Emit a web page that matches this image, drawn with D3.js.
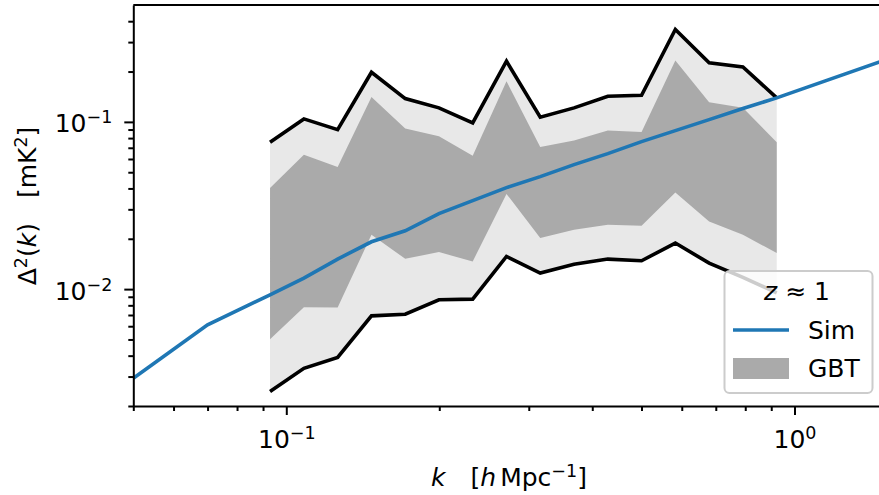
<!DOCTYPE html>
<html>
<head>
<meta charset="utf-8">
<script src="https://cdn.jsdelivr.net/npm/d3@7"></script>
<style>
  body { margin: 0; background: #fff; }
  text { font-family: "DejaVu Sans", sans-serif; }
</style>
</head>
<body>
<div id="chart"></div>
<script>
// GBT k bins and bands
var kBins = [0.0929, 0.1083, 0.1262, 0.1471, 0.1714, 0.1997, 0.2327, 0.2712,
             0.3160, 0.3683, 0.4292, 0.5001, 0.5828, 0.6792, 0.7915, 0.9226];
var outerHi = [0.0755, 0.1042, 0.0899, 0.198, 0.1378, 0.1213, 0.0986, 0.2307,
               0.1066, 0.1213, 0.1422, 0.1443, 0.357, 0.2253, 0.2133, 0.1392];
var outerLo = [0.00244, 0.00336, 0.00390, 0.00692, 0.00708, 0.00863, 0.00871, 0.01567,
               0.01247, 0.01408, 0.01512, 0.01477, 0.01885, 0.01431, 0.01177, 0.00950];
var innerHi = [0.0403, 0.0637, 0.0538, 0.1411, 0.0912, 0.082, 0.0628, 0.175,
               0.0708, 0.0773, 0.0887, 0.0871, 0.2328, 0.131, 0.1213, 0.0755];
var innerLo = [0.00502, 0.0078, 0.00776, 0.02114, 0.01518, 0.01665, 0.01463, 0.0371,
               0.0202, 0.02265, 0.02427, 0.02393, 0.03788, 0.0254, 0.02114, 0.01643];

// simulation curve
var simK = [0.05, 0.07, 0.0929, 0.1083, 0.1262, 0.1471, 0.1714, 0.1997, 0.2327, 0.2712,
            0.3160, 0.3683, 0.4292, 0.5001, 0.5828, 0.6792, 0.7915, 0.9226, 1.5];
var simP = [0.00293, 0.00611, 0.00924, 0.01164, 0.01512, 0.01919, 0.02234, 0.02825, 0.0338, 0.04044,
            0.04704, 0.0555, 0.0646, 0.0762, 0.0887, 0.1032, 0.1202, 0.1392, 0.233];

var xMajor = [0.1, 1];
var xMinor = [0.05, 0.06, 0.07, 0.08, 0.09, 0.2, 0.3, 0.4, 0.5, 0.6, 0.7, 0.8, 0.9];
var yMajor = [0.01, 0.1];
var yMinor = [0.002, 0.003, 0.004, 0.005, 0.006, 0.007, 0.008, 0.009,
              0.02, 0.03, 0.04, 0.05, 0.06, 0.07, 0.08, 0.09, 0.2, 0.3, 0.4];

var W = 879, H = 495;
var mLeft = 133.3, mRight = 884, mTop = 5, mBottom = 406;

var svg = d3.select("#chart").append("svg")
    .attr("width", W).attr("height", H);

var x = d3.scaleLog().domain([0.05, 1.5]).range([mLeft, mRight]);
var y = d3.scaleLog().domain([0.002, 0.5]).range([mBottom, mTop]);

svg.append("clipPath").attr("id", "clip")
  .append("rect").attr("x", mLeft).attr("y", mTop)
    .attr("width", mRight - mLeft).attr("height", mBottom - mTop);

var plot = svg.append("g").attr("clip-path", "url(#clip)");

var bins = kBins.map(function(k, i) {
  return {k: k, oh: outerHi[i], ol: outerLo[i], ih: innerHi[i], il: innerLo[i]};
});

plot.append("path").datum(bins)
  .attr("fill", "#e8e8e8")
  .attr("d", d3.area().x(function(d) { return x(d.k); })
      .y0(function(d) { return y(d.ol); }).y1(function(d) { return y(d.oh); }));

plot.append("path").datum(bins)
  .attr("fill", "#aaaaaa")
  .attr("d", d3.area().x(function(d) { return x(d.k); })
      .y0(function(d) { return y(d.il); }).y1(function(d) { return y(d.ih); }));

["oh", "ol"].forEach(function(key) {
  plot.append("path").datum(bins)
    .attr("fill", "none").attr("stroke", "black").attr("stroke-width", 3.6)
    .attr("stroke-linejoin", "miter")
    .attr("d", d3.line().x(function(d) { return x(d.k); })
        .y(function(d) { return y(d[key]); }));
});

plot.append("path").datum(simK.map(function(k, i) { return [k, simP[i]]; }))
  .attr("fill", "none").attr("stroke", "#1f77b4").attr("stroke-width", 3.6)
  .attr("d", d3.line().x(function(d) { return x(d[0]); })
      .y(function(d) { return y(d[1]); }));

// axes
function supLabel(sel, exp) {
  sel.text(null);
  sel.append("tspan").text("10");
  sel.append("tspan").attr("font-size", 17.5).attr("dy", -9).text(exp);
}

var xAxis = svg.append("g").attr("transform", "translate(0," + mBottom + ")")
  .call(d3.axisBottom(x).tickValues(xMajor).tickSize(9).tickSizeOuter(0).tickPadding(10));
xAxis.selectAll(".tick text").attr("font-size", 25).attr("dy", "0.9em")
  .each(function(d) { supLabel(d3.select(this), d === 1 ? "0" : "\u22121"); });
svg.append("g").attr("transform", "translate(0," + mBottom + ")")
  .call(d3.axisBottom(x).tickValues(xMinor).tickSize(5).tickFormat("").tickSizeOuter(0))
  .select(".domain").remove();

var yAxis = svg.append("g").attr("transform", "translate(" + mLeft + ",0)")
  .call(d3.axisLeft(y).tickValues(yMajor).tickSize(9).tickSizeOuter(0).tickPadding(12));
yAxis.selectAll(".tick text").attr("font-size", 25).attr("dy", "0.4em")
  .each(function(d) { supLabel(d3.select(this), d === 0.1 ? "\u22121" : "\u22122"); });
svg.append("g").attr("transform", "translate(" + mLeft + ",0)")
  .call(d3.axisLeft(y).tickValues(yMinor).tickSize(5).tickFormat("").tickSizeOuter(0))
  .select(".domain").remove();

svg.selectAll(".domain").attr("stroke-width", 2);
svg.selectAll(".tick line").attr("stroke-width", 2);

svg.append("line").attr("x1", mLeft).attr("x2", W).attr("y1", mTop).attr("y2", mTop)
  .attr("stroke", "black").attr("stroke-width", 2);

// axis labels
var xl = svg.append("text").attr("x", 509).attr("y", 486)
  .attr("text-anchor", "middle").attr("font-size", 25);
xl.append("tspan").attr("font-style", "italic").text("k");
xl.append("tspan").attr("dx", 25).text("[");
xl.append("tspan").attr("font-style", "italic").text("h");
xl.append("tspan").attr("dx", 4).text("Mpc");
xl.append("tspan").attr("font-size", 17.5).attr("dy", -9).text("\u22121");
xl.append("tspan").attr("dy", 9).text("]");

var yl = svg.append("text").attr("transform", "translate(36,206) rotate(-90)")
  .attr("text-anchor", "middle").attr("font-size", 25);
yl.append("tspan").text("\u0394");
yl.append("tspan").attr("font-size", 17.5).attr("dy", -9).text("2");
yl.append("tspan").attr("dy", 9).text("(");
yl.append("tspan").attr("font-style", "italic").text("k");
yl.append("tspan").text(")");
yl.append("tspan").attr("dx", 25).text("[mK");
yl.append("tspan").attr("font-size", 17.5).attr("dy", -9).text("2");
yl.append("tspan").attr("dy", 9).text("]");

// legend
var lg = svg.append("g");
lg.append("rect").attr("x", 724.5).attr("y", 271).attr("width", 148).attr("height", 122)
  .attr("rx", 5).attr("fill", "white").attr("fill-opacity", 0.8)
  .attr("stroke", "#cccccc").attr("stroke-width", 2);
var lt = lg.append("text").attr("x", 797).attr("y", 300)
  .attr("text-anchor", "middle").attr("font-size", 25);
lt.append("tspan").attr("font-style", "italic").text("z");
lt.append("tspan").text(" \u2248 1");
lg.append("line").attr("x1", 733).attr("x2", 789).attr("y1", 330).attr("y2", 330)
  .attr("stroke", "#1f77b4").attr("stroke-width", 3.6);
lg.append("text").attr("x", 808).attr("y", 339).attr("font-size", 25).text("Sim");
lg.append("rect").attr("x", 733).attr("y", 358).attr("width", 56).attr("height", 21)
  .attr("fill", "#aaaaaa");
lg.append("text").attr("x", 808).attr("y", 377).attr("font-size", 25).text("GBT");
</script>
</body>
</html>
